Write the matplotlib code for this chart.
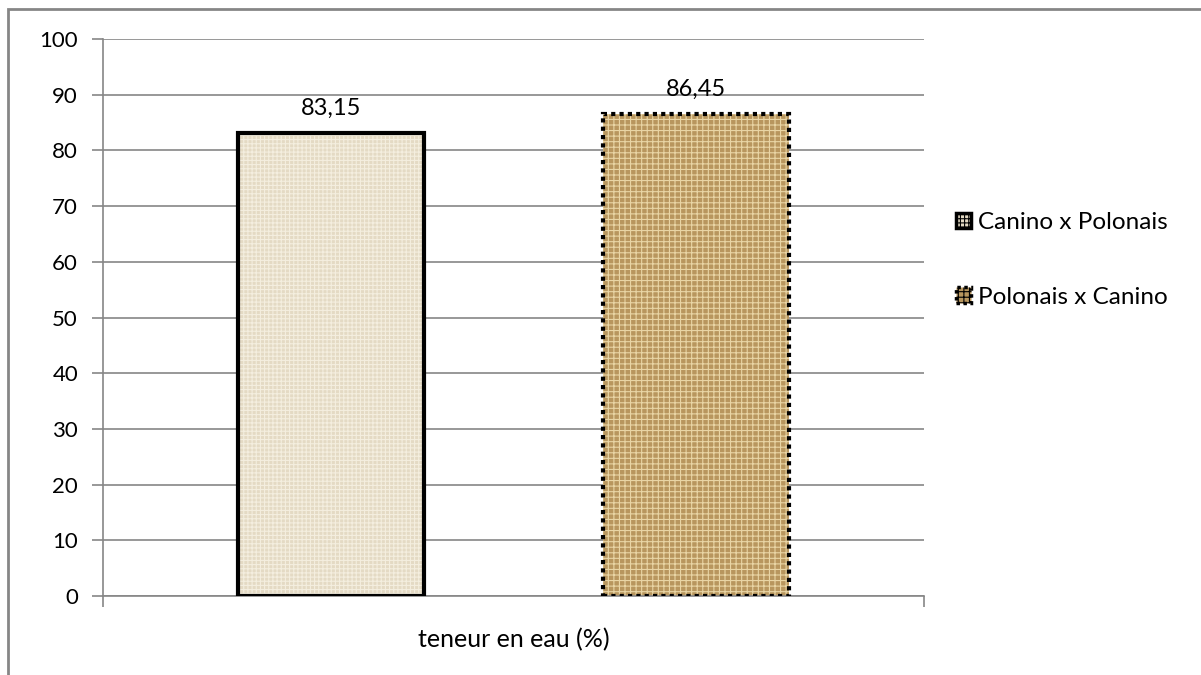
import matplotlib.pyplot as plt
from matplotlib.patches import Rectangle, Patch

# data
category = "teneur en eau (%)"
series = ["Canino x Polonais", "Polonais x Canino"]
values = [83.15, 86.45]
labels = ["83,15", "86,45"]
yticks = [0, 10, 20, 30, 40, 50, 60, 70, 80, 90, 100]

plt.rcParams['font.family'] = ['Lato', 'DejaVu Sans']
plt.rcParams['hatch.linewidth'] = 0.8

face = ["#E4DAC4", "#B8965E"]
hatchcol = ["#F4EEDF", "#E9D5A5"]
hatches = ["++++", "+++"]
edge_ls = ["-", (0, (1, 1))]
grid = "#868686"

fig = plt.figure(figsize=(12.01, 6.75), dpi=100)
ax = fig.add_axes([0.0858, 0.117, 0.6836, 0.8252])

xpos = [0, 1]
w = 0.51
for i in range(2):
    ax.bar(xpos[i], values[i], w, color=face[i], hatch=hatches[i],
           edgecolor=hatchcol[i], linewidth=0, zorder=2)
    ax.bar(xpos[i], values[i], w, facecolor="none", edgecolor="black",
           linewidth=3, linestyle=edge_ls[i], zorder=3)
    ax.text(xpos[i], values[i] + 2.6, labels[i], ha="center", va="bottom",
            fontsize=17)

ax.set_xlim(-0.626, 1.626)
ax.set_ylim(0, 100)
ax.set_yticks(yticks)
ax.set_yticklabels([str(t) for t in yticks], fontsize=16)
ax.yaxis.grid(True, color=grid, linewidth=1.2, zorder=0)
ax.set_axisbelow(True)
ax.tick_params(axis="y", direction="out", length=8, width=1.2, color=grid, pad=10)

ax.set_xticks([-0.626, 1.626])
ax.set_xticklabels(["", ""])
ax.tick_params(axis="x", which="major", direction="out", length=8, width=1.2, color=grid)
ax.set_xticks([0.5], [category], minor=True)
ax.tick_params(axis="x", which="minor", length=0, labelsize=18, pad=23)

for s in ["top", "right"]:
    ax.spines[s].set_visible(False)
for s in ["left", "bottom"]:
    ax.spines[s].set_color(grid)
    ax.spines[s].set_linewidth(1.2)

handles = [Patch(facecolor=face[i], hatch=hatches[i], edgecolor="black",
                 linewidth=2.5, linestyle=edge_ls[i]) for i in range(2)]
fig.legend(handles, series, loc="upper left", bbox_to_anchor=(0.778, 0.718),
           frameon=False, fontsize=17.5, handlelength=0.6, handleheight=0.6,
           handletextpad=0.3, labelspacing=2.2)

fig.patches.append(Rectangle((8 / 1201, -0.05), 1.1, 1 - 9 / 675 + 0.05,
                             transform=fig.transFigure, fill=False,
                             edgecolor=grid, linewidth=2))

fig.savefig("out.png", dpi=100)
